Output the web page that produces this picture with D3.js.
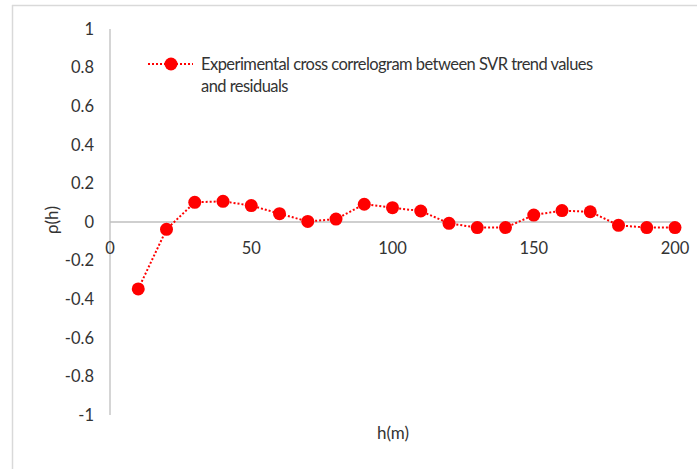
<!DOCTYPE html>
<html>
<head>
<meta charset="utf-8">
<script src="https://cdn.jsdelivr.net/npm/d3@7"></script>
<style>
  body { margin: 0; background: #fff; }
  svg text { font-family: Lato, "Open Sans", sans-serif; fill: #333; }
</style>
</head>
<body>
<svg id="chart" width="697" height="469"></svg>
<script>
// lag distances (m) and cross-correlation values
const lags = [10, 20, 30, 40, 50, 60, 70, 80, 90, 100, 110, 120, 130, 140, 150, 160, 170, 180, 190, 200];
const rho = [-0.347, -0.038, 0.102, 0.107, 0.085, 0.043, 0.003, 0.015, 0.092, 0.074,
             0.057, -0.007, -0.029, -0.029, 0.036, 0.059, 0.053, -0.017, -0.029, -0.029];
const yTicks = ['-1', '-0.8', '-0.6', '-0.4', '-0.2', '0', '0.2', '0.4', '0.6', '0.8', '1'];
const xTicks = [0, 50, 100, 150, 200];
const seriesName = ['Experimental cross correlogram between SVR trend values', 'and residuals'];

document.addEventListener('DOMContentLoaded', function () {
    const svg = d3.select('#chart');
    const red = '#ff0000';

    // chart area border (only top and left show in the picture)
    svg.append('line').attr('x1', 12).attr('y1', 5.5).attr('x2', 697).attr('y2', 5.5)
        .attr('stroke', '#d9d9d9').attr('stroke-width', 1.5);
    svg.append('line').attr('x1', 12.5).attr('y1', 5).attr('x2', 12.5).attr('y2', 469)
        .attr('stroke', '#d9d9d9').attr('stroke-width', 1.5);

    const x = d3.scaleLinear().domain([0, 200]).range([110, 675]);
    const y = d3.scaleLinear().domain([-1, 1]).range([415, 29]);

    // y axis line and labels
    svg.append('line').attr('x1', x(0)).attr('x2', x(0)).attr('y1', y(1)).attr('y2', y(-1))
        .attr('stroke', '#bfbfbf').attr('stroke-width', 1.3);
    svg.append('g').selectAll('text')
        .data(yTicks)
        .enter()
        .append('text')
        .attr('x', 94)
        .attr('y', d => y(+d))
        .attr('dy', '0.35em')
        .attr('text-anchor', 'end')
        .attr('font-size', 16.5)
        .text(d => d);

    // x axis along rho = 0
    svg.append('line').attr('x1', x(0)).attr('x2', x(200)).attr('y1', y(0)).attr('y2', y(0))
        .attr('stroke', '#bfbfbf').attr('stroke-width', 1.3);
    svg.append('g').selectAll('text')
        .data(xTicks)
        .enter()
        .append('text')
        .attr('x', d => x(d))
        .attr('y', y(0) + 26)
        .attr('dy', '0.35em')
        .attr('text-anchor', 'middle')
        .attr('font-size', 16.5)
        .text(d => d);

    // axis titles
    svg.append('text')
        .attr('transform', `translate(52,${y(0) - 2}) rotate(-90)`)
        .attr('text-anchor', 'middle')
        .attr('dy', '0.35em')
        .attr('font-size', 17)
        .text('ρ(h)');
    svg.append('text')
        .attr('x', 393).attr('y', 433).attr('dy', '0.35em')
        .attr('text-anchor', 'middle')
        .attr('font-size', 17)
        .text('h(m)');

    // series
    const line = d3.line().x((d, i) => x(lags[i])).y(d => y(d));
    svg.append('path')
        .datum(rho)
        .attr('d', line)
        .attr('fill', 'none')
        .attr('stroke', red)
        .attr('stroke-width', 2)
        .attr('stroke-dasharray', '2,2');
    svg.append('g').selectAll('circle')
        .data(rho)
        .enter()
        .append('circle')
        .attr('cx', (d, i) => x(lags[i]))
        .attr('cy', d => y(d))
        .attr('r', 6.5)
        .attr('fill', red);

    // legend
    const lg = svg.append('g');
    lg.append('line').attr('x1', 148).attr('x2', 193).attr('y1', 64).attr('y2', 64)
        .attr('stroke', red).attr('stroke-width', 2).attr('stroke-dasharray', '2,2');
    lg.append('circle').attr('cx', 171).attr('cy', 64).attr('r', 6.5).attr('fill', red);
    lg.selectAll('text.leg')
        .data(seriesName)
        .enter()
        .append('text')
        .attr('class', 'leg')
        .attr('x', 201)
        .attr('y', (d, i) => 64 + i * 22)
        .attr('dy', '0.35em')
        .attr('font-size', 16.5)
        .attr('letter-spacing', -0.55)
        .text(d => d);
});
</script>
</body>
</html>
